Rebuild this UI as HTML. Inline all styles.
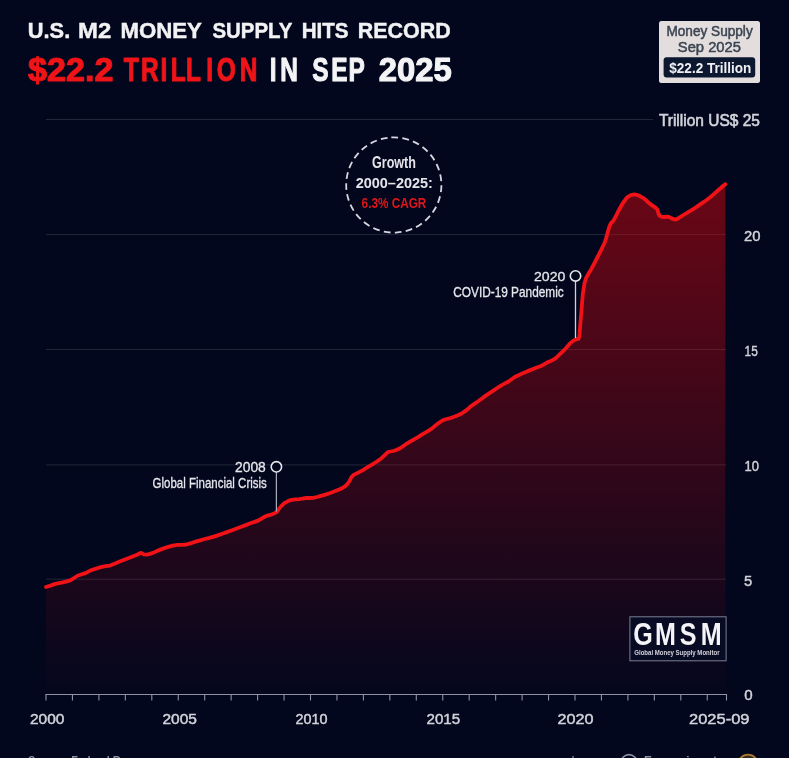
<!DOCTYPE html>
<html lang="en">
<head>
<meta charset="utf-8">
<title>U.S. M2 Money Supply Hits Record $22.2 Trillion in Sep 2025</title>
<style>
html,body{margin:0;padding:0;background:#03071d;}
body{width:789px;height:758px;overflow:hidden;position:relative;font-family:"Liberation Sans",sans-serif;}
svg{position:absolute;left:0;top:0;display:block;filter:blur(0.55px);}
text{font-family:"Liberation Sans",sans-serif;}
.t1{font-size:22.5px;font-weight:700;fill:#f2f2f4;stroke:#f2f2f4;stroke-width:0.45px;}
.t2{font-size:33.5px;font-weight:700;fill:#f4f4f6;stroke:#f4f4f6;stroke-width:1.1px;stroke-linejoin:round;}
.t2r{font-size:33.5px;font-weight:700;fill:#ee1418;stroke:#ee1418;stroke-width:1.1px;stroke-linejoin:round;}
.ax{font-size:14.5px;font-weight:400;fill:#d2d3da;stroke:#d2d3da;stroke-width:0.45px;}
.ann{font-size:13px;font-weight:400;fill:#e6e6ec;stroke:#e6e6ec;stroke-width:0.3px;}
.annb{font-size:12.5px;font-weight:700;fill:#e4e4ea;}
.grid line{stroke:#ffffff;stroke-opacity:0.125;stroke-width:1;}
.axis line{stroke:#8e92a4;stroke-width:1.1;}
</style>
</head>
<body>
<svg width="789" height="758" viewBox="0 0 789 758">
<defs>
<linearGradient id="fillg" gradientUnits="userSpaceOnUse" x1="0" y1="185" x2="0" y2="700">
<stop offset="0" stop-color="#cd060e" stop-opacity="0.51"/>
<stop offset="1" stop-color="#cd060e" stop-opacity="0"/>
</linearGradient>
</defs>
<rect x="0" y="0" width="789" height="758" fill="#03071d"/>

<!-- title -->
<g>
<text x="27.8" y="37.6" textLength="42.4" lengthAdjust="spacingAndGlyphs" class="t1" >U.S.</text>
<text x="78.0" y="37.6" textLength="33.2" lengthAdjust="spacingAndGlyphs" class="t1" >M2</text>
<text x="120.4" y="37.6" textLength="81.5" lengthAdjust="spacingAndGlyphs" class="t1" >MONEY</text>
<text x="212.4" y="37.6" textLength="80.0" lengthAdjust="spacingAndGlyphs" class="t1" >SUPPLY</text>
<text x="301.7" y="37.6" textLength="46.9" lengthAdjust="spacingAndGlyphs" class="t1" >HITS</text>
<text x="357.7" y="37.6" textLength="93.0" lengthAdjust="spacingAndGlyphs" class="t1" >RECORD</text>
<text x="28.0" y="81" textLength="85.4" lengthAdjust="spacingAndGlyphs" class="t2r" >$22.2</text>
<text transform="scale(0.73 1)" x="169.6 193.3 219.8 233.9 254.7 282.5 296.8 328.5" y="81" class="t2r" >TRILLION</text>
<text transform="scale(0.73 1)" x="369.4 383.9" y="81" class="t2" >IN</text>
<text transform="scale(0.73 1)" x="427.9 453.7 477.3" y="81" class="t2" >SEP</text>
<text x="378.7" y="81" textLength="73.0" lengthAdjust="spacingAndGlyphs" class="t2" >2025</text>
</g>

<!-- gridlines -->
<g class="grid"><line x1="46" y1="119.5" x2="653" y2="119.5"/><line x1="46" y1="234.6" x2="726" y2="234.6"/><line x1="46" y1="349.5" x2="726" y2="349.5"/><line x1="46" y1="464.9" x2="726" y2="464.9"/><line x1="46" y1="579.2" x2="726" y2="579.2"/></g>

<!-- area + line -->
<path d="M46.0,587.0 L50.5,585.6 L55.2,583.9 L62.8,582.4 L70.4,580.3 L74.0,578.0 L78.0,575.5 L82.0,574.2 L85.6,573.2 L90.2,570.6 L95.5,568.8 L100.8,567.1 L105.5,566.2 L110.0,565.6 L114.5,563.8 L119.1,561.8 L123.6,560.0 L128.2,558.3 L132.0,556.8 L135.8,555.3 L138.6,554.0 L141.1,552.8 L143.8,554.3 L146.5,554.7 L150.0,553.9 L154.5,552.2 L159.1,550.1 L163.7,548.4 L168.3,546.9 L172.8,545.6 L177.4,544.8 L182.0,544.8 L186.5,544.5 L191.0,543.2 L195.6,541.6 L200.2,540.3 L204.8,539.0 L209.3,537.9 L213.9,536.6 L218.4,535.1 L223.0,533.5 L227.5,531.9 L232.1,530.2 L236.7,528.5 L241.3,526.8 L245.8,525.1 L250.4,523.3 L254.6,521.9 L258.7,520.4 L261.5,518.6 L265.1,516.5 L268.0,515.4 L271.4,514.6 L274.0,513.6 L276.5,512.2 L278.4,509.8 L280.3,507.0 L282.8,504.6 L285.3,502.6 L288.5,500.9 L291.7,499.8 L295.5,499.4 L299.3,499.2 L303.0,498.5 L306.9,497.9 L310.0,498.0 L313.2,497.9 L317.0,497.0 L320.8,495.9 L324.6,494.8 L328.4,493.7 L332.2,492.3 L336.0,490.8 L339.2,489.5 L342.4,488.0 L345.0,486.3 L347.5,484.0 L349.5,481.0 L351.3,477.4 L353.0,475.4 L355.1,474.1 L359.1,472.2 L362.5,470.3 L366.0,468.2 L369.4,466.2 L372.8,464.2 L376.2,462.0 L379.7,459.6 L382.0,457.7 L384.2,455.6 L386.0,453.8 L387.8,452.2 L390.5,451.5 L393.3,451.0 L396.8,449.8 L400.2,448.2 L403.0,446.3 L405.9,444.2 L408.2,442.8 L410.5,441.4 L414.5,439.1 L418.4,436.8 L421.8,434.6 L425.3,432.6 L428.7,430.6 L432.1,428.4 L435.2,425.8 L439.0,422.8 L442.8,420.2 L446.6,419.0 L450.4,418.1 L454.2,416.8 L458.0,415.2 L461.0,413.8 L464.1,411.9 L467.2,409.6 L470.2,406.8 L474.0,404.1 L477.8,401.5 L481.6,398.7 L485.4,395.9 L489.2,393.4 L493.0,390.9 L496.8,388.3 L500.6,385.8 L504.4,383.7 L508.2,381.7 L512.0,379.0 L515.8,376.4 L519.6,374.7 L523.4,372.9 L527.0,371.4 L531.0,369.9 L535.5,368.1 L540.5,366.2 L544.0,364.4 L547.4,362.3 L550.8,360.9 L554.2,359.3 L557.0,357.0 L559.9,354.2 L562.8,351.4 L565.6,348.5 L568.0,345.8 L570.2,343.3 L572.5,341.4 L574.8,339.9 L576.6,339.2 L578.4,338.8 L579.3,337.0 L579.6,334.0 L580.4,322.8 L581.4,311.4 L582.3,300.0 L582.9,293.2 L584.6,282.6 L586.3,277.6 L588.9,273.0 L591.1,269.4 L594.0,264.0 L596.6,258.9 L599.2,253.8 L601.8,248.6 L604.3,243.5 L606.0,238.6 L607.4,233.4 L608.5,229.3 L609.7,225.6 L611.5,222.6 L613.7,220.2 L616.0,216.0 L618.0,211.7 L620.2,207.8 L622.3,204.0 L624.5,200.8 L626.6,198.0 L628.7,196.3 L630.9,195.1 L633.0,194.6 L635.2,194.5 L637.8,195.2 L640.3,196.3 L643.0,197.8 L645.5,199.7 L648.0,202.2 L650.3,204.0 L652.5,205.6 L654.6,207.1 L656.2,208.3 L657.5,209.8 L658.5,213.5 L659.7,215.8 L661.8,216.9 L664.5,217.0 L667.1,216.7 L669.5,217.2 L671.7,218.4 L673.8,219.2 L675.7,219.6 L677.7,218.7 L679.7,217.3 L682.0,215.9 L684.2,214.5 L687.0,212.8 L689.9,211.1 L692.8,209.4 L695.6,207.6 L698.4,205.6 L701.3,203.6 L704.2,201.7 L707.0,199.7 L709.8,197.5 L712.7,195.1 L715.5,192.6 L718.4,190.0 L720.8,188.0 L723.0,186.0 L725.3,184.3 L725.3,694.5 L46,694.5 Z" fill="url(#fillg)"/>

<path d="M46.0,587.0 L50.5,585.6 L55.2,583.9 L62.8,582.4 L70.4,580.3 L74.0,578.0 L78.0,575.5 L82.0,574.2 L85.6,573.2 L90.2,570.6 L95.5,568.8 L100.8,567.1 L105.5,566.2 L110.0,565.6 L114.5,563.8 L119.1,561.8 L123.6,560.0 L128.2,558.3 L132.0,556.8 L135.8,555.3 L138.6,554.0 L141.1,552.8 L143.8,554.3 L146.5,554.7 L150.0,553.9 L154.5,552.2 L159.1,550.1 L163.7,548.4 L168.3,546.9 L172.8,545.6 L177.4,544.8 L182.0,544.8 L186.5,544.5 L191.0,543.2 L195.6,541.6 L200.2,540.3 L204.8,539.0 L209.3,537.9 L213.9,536.6 L218.4,535.1 L223.0,533.5 L227.5,531.9 L232.1,530.2 L236.7,528.5 L241.3,526.8 L245.8,525.1 L250.4,523.3 L254.6,521.9 L258.7,520.4 L261.5,518.6 L265.1,516.5 L268.0,515.4 L271.4,514.6 L274.0,513.6 L276.5,512.2 L278.4,509.8 L280.3,507.0 L282.8,504.6 L285.3,502.6 L288.5,500.9 L291.7,499.8 L295.5,499.4 L299.3,499.2 L303.0,498.5 L306.9,497.9 L310.0,498.0 L313.2,497.9 L317.0,497.0 L320.8,495.9 L324.6,494.8 L328.4,493.7 L332.2,492.3 L336.0,490.8 L339.2,489.5 L342.4,488.0 L345.0,486.3 L347.5,484.0 L349.5,481.0 L351.3,477.4 L353.0,475.4 L355.1,474.1 L359.1,472.2 L362.5,470.3 L366.0,468.2 L369.4,466.2 L372.8,464.2 L376.2,462.0 L379.7,459.6 L382.0,457.7 L384.2,455.6 L386.0,453.8 L387.8,452.2 L390.5,451.5 L393.3,451.0 L396.8,449.8 L400.2,448.2 L403.0,446.3 L405.9,444.2 L408.2,442.8 L410.5,441.4 L414.5,439.1 L418.4,436.8 L421.8,434.6 L425.3,432.6 L428.7,430.6 L432.1,428.4 L435.2,425.8 L439.0,422.8 L442.8,420.2 L446.6,419.0 L450.4,418.1 L454.2,416.8 L458.0,415.2 L461.0,413.8 L464.1,411.9 L467.2,409.6 L470.2,406.8 L474.0,404.1 L477.8,401.5 L481.6,398.7 L485.4,395.9 L489.2,393.4 L493.0,390.9 L496.8,388.3 L500.6,385.8 L504.4,383.7 L508.2,381.7 L512.0,379.0 L515.8,376.4 L519.6,374.7 L523.4,372.9 L527.0,371.4 L531.0,369.9 L535.5,368.1 L540.5,366.2 L544.0,364.4 L547.4,362.3 L550.8,360.9 L554.2,359.3 L557.0,357.0 L559.9,354.2 L562.8,351.4 L565.6,348.5 L568.0,345.8 L570.2,343.3 L572.5,341.4 L574.8,339.9 L576.6,339.2 L578.4,338.8 L579.3,337.0 L579.6,334.0 L580.4,322.8 L581.4,311.4 L582.3,300.0 L582.9,293.2 L584.6,282.6 L586.3,277.6 L588.9,273.0 L591.1,269.4 L594.0,264.0 L596.6,258.9 L599.2,253.8 L601.8,248.6 L604.3,243.5 L606.0,238.6 L607.4,233.4 L608.5,229.3 L609.7,225.6 L611.5,222.6 L613.7,220.2 L616.0,216.0 L618.0,211.7 L620.2,207.8 L622.3,204.0 L624.5,200.8 L626.6,198.0 L628.7,196.3 L630.9,195.1 L633.0,194.6 L635.2,194.5 L637.8,195.2 L640.3,196.3 L643.0,197.8 L645.5,199.7 L648.0,202.2 L650.3,204.0 L652.5,205.6 L654.6,207.1 L656.2,208.3 L657.5,209.8 L658.5,213.5 L659.7,215.8 L661.8,216.9 L664.5,217.0 L667.1,216.7 L669.5,217.2 L671.7,218.4 L673.8,219.2 L675.7,219.6 L677.7,218.7 L679.7,217.3 L682.0,215.9 L684.2,214.5 L687.0,212.8 L689.9,211.1 L692.8,209.4 L695.6,207.6 L698.4,205.6 L701.3,203.6 L704.2,201.7 L707.0,199.7 L709.8,197.5 L712.7,195.1 L715.5,192.6 L718.4,190.0 L720.8,188.0 L723.0,186.0 L725.3,184.3" fill="none" stroke="#f01216" stroke-width="3.8" stroke-linejoin="round" stroke-linecap="round"/>

<!-- x axis -->
<g class="axis"><line x1="45.4" y1="694.5" x2="727.1" y2="694.5"/><line x1="46.00" y1="694.5" x2="46.00" y2="700.5"/><line x1="72.45" y1="694.5" x2="72.45" y2="700.5"/><line x1="98.90" y1="694.5" x2="98.90" y2="700.5"/><line x1="125.35" y1="694.5" x2="125.35" y2="700.5"/><line x1="151.80" y1="694.5" x2="151.80" y2="700.5"/><line x1="178.25" y1="694.5" x2="178.25" y2="700.5"/><line x1="204.70" y1="694.5" x2="204.70" y2="700.5"/><line x1="231.15" y1="694.5" x2="231.15" y2="700.5"/><line x1="257.60" y1="694.5" x2="257.60" y2="700.5"/><line x1="284.05" y1="694.5" x2="284.05" y2="700.5"/><line x1="310.50" y1="694.5" x2="310.50" y2="700.5"/><line x1="336.95" y1="694.5" x2="336.95" y2="700.5"/><line x1="363.40" y1="694.5" x2="363.40" y2="700.5"/><line x1="389.85" y1="694.5" x2="389.85" y2="700.5"/><line x1="416.30" y1="694.5" x2="416.30" y2="700.5"/><line x1="442.75" y1="694.5" x2="442.75" y2="700.5"/><line x1="469.20" y1="694.5" x2="469.20" y2="700.5"/><line x1="495.65" y1="694.5" x2="495.65" y2="700.5"/><line x1="522.10" y1="694.5" x2="522.10" y2="700.5"/><line x1="548.55" y1="694.5" x2="548.55" y2="700.5"/><line x1="575.00" y1="694.5" x2="575.00" y2="700.5"/><line x1="601.45" y1="694.5" x2="601.45" y2="700.5"/><line x1="627.90" y1="694.5" x2="627.90" y2="700.5"/><line x1="654.35" y1="694.5" x2="654.35" y2="700.5"/><line x1="680.80" y1="694.5" x2="680.80" y2="700.5"/><line x1="707.25" y1="694.5" x2="707.25" y2="700.5"/><line x1="726.50" y1="694.5" x2="726.50" y2="700.5"/></g>
<g>
<text x="30" y="724.3" textLength="34.5" lengthAdjust="spacingAndGlyphs" class="ax" >2000</text>
<text x="162.5" y="724.3" textLength="34.5" lengthAdjust="spacingAndGlyphs" class="ax" >2005</text>
<text x="295.4" y="724.3" textLength="32" lengthAdjust="spacingAndGlyphs" class="ax" >2010</text>
<text x="426.5" y="724.3" textLength="33.7" lengthAdjust="spacingAndGlyphs" class="ax" >2015</text>
<text x="557.5" y="724.3" textLength="36" lengthAdjust="spacingAndGlyphs" class="ax" >2020</text>
<text x="689" y="724.3" textLength="60.5" lengthAdjust="spacingAndGlyphs" class="ax" >2025-09</text>
</g>
<!-- y axis labels -->
<g>
<text x="658.9" y="125.5" textLength="101" lengthAdjust="spacingAndGlyphs" class="ax" style="font-size:16px;stroke-width:0.6px">Trillion US$ 25</text>
<text x="744" y="241" textLength="16.5" lengthAdjust="spacingAndGlyphs" class="ax" style="font-size:15.5px">20</text>
<text x="744.6" y="356" textLength="13.2" lengthAdjust="spacingAndGlyphs" class="ax" style="font-size:15.5px">15</text>
<text x="744.6" y="471" textLength="14.5" lengthAdjust="spacingAndGlyphs" class="ax" style="font-size:15.5px">10</text>
<text x="744" y="586" textLength="8.2" lengthAdjust="spacingAndGlyphs" class="ax" style="font-size:15.5px">5</text>
<text x="744.2" y="700" textLength="8.4" lengthAdjust="spacingAndGlyphs" class="ax" style="font-size:15.5px">0</text>
</g>

<!-- growth circle -->
<circle cx="393.8" cy="185" r="47.6" fill="none" stroke="#d6d7e0" stroke-width="1.8" stroke-dasharray="6.8 4.277" transform="rotate(-93 393.8 185)"/>
<text x="372" y="168" textLength="44" lengthAdjust="spacingAndGlyphs" class="annb" style="font-size:15.8px">Growth</text>
<text x="355.7" y="187.8" textLength="77.2" lengthAdjust="spacingAndGlyphs" class="annb" style="font-size:14.8px">2000–2025:</text>
<text x="361.6" y="208.2" textLength="64.7" lengthAdjust="spacingAndGlyphs" class="annb" style="font-size:14.8px;fill:#dc161a">6.3% CAGR</text>

<!-- 2008 annotation -->
<line x1="276.4" y1="472" x2="276.4" y2="511.5" stroke="#a9abb9" stroke-width="1.25"/>
<circle cx="276.4" cy="466.8" r="5.2" fill="#03071d" stroke="#e6e6ec" stroke-width="1.6"/>
<text x="235" y="471.7" textLength="30.8" lengthAdjust="spacingAndGlyphs" class="ann" style="font-size:14.3px">2008</text>
<text x="152.6" y="488.2" textLength="114.2" lengthAdjust="spacingAndGlyphs" class="ann" style="font-size:14.3px">Global Financial Crisis</text>

<!-- 2020 annotation -->
<line x1="575.5" y1="281" x2="575.5" y2="338" stroke="#d0d1da" stroke-width="1.3"/>
<circle cx="575.5" cy="275.9" r="5.2" fill="#03071d" stroke="#e6e6ec" stroke-width="1.6"/>
<text x="534" y="280.8" textLength="31.3" lengthAdjust="spacingAndGlyphs" class="ann" style="font-size:13.5px">2020</text>
<text x="453.3" y="297.4" textLength="110.4" lengthAdjust="spacingAndGlyphs" class="ann" style="font-size:14.3px">COVID-19 Pandemic</text>

<!-- top right box -->
<rect x="659" y="21" width="101" height="62" rx="2.5" fill="#e3dedd"/>
<text x="666.4" y="35.7" textLength="86.3" lengthAdjust="spacingAndGlyphs" class="" style="font-size:14.2px;fill:#3c4452;stroke:#3c4452;stroke-width:0.5px">Money Supply</text>
<text x="677.8" y="51.6" textLength="63.2" lengthAdjust="spacingAndGlyphs" class="" style="font-size:14.8px;fill:#3c4452;stroke:#3c4452;stroke-width:0.5px">Sep 2025</text>
<rect x="663.6" y="57.2" width="91.6" height="20.4" rx="3" fill="#0b1830"/>
<text x="669.3" y="73.3" textLength="82.1" lengthAdjust="spacingAndGlyphs" class="annb" style="font-size:15.5px;fill:#f0f0f4">$22.2 Trillion</text>

<!-- GMSM logo -->
<rect x="629.9" y="616.8" width="96.2" height="44" fill="#070b24" stroke="#7c8094" stroke-width="1"/>
<text transform="scale(0.81 1)" y="644.7" x="781.8 808.7 839.3 865.0" style="font-size:31px;font-weight:700;fill:#f4f4f6">GMSM</text>
<text x="634.3" y="655" textLength="85.2" lengthAdjust="spacingAndGlyphs" class="" style="font-size:7px;font-weight:700;fill:#d4d4dc">Global Money Supply Monitor</text>

<!-- footer (cropped at bottom) -->
<text x="28" y="764.6" textLength="127" lengthAdjust="spacingAndGlyphs" class="" style="font-size:13px;font-weight:700;fill:#8e90a0">Source: Federal Reserve</text>
<text x="571" y="764.8" textLength="19" lengthAdjust="spacingAndGlyphs" class="" style="font-size:13px;fill:#6e7082">by</text>
<circle cx="629" cy="762.6" r="8" fill="none" stroke="#8d90a0" stroke-width="1.6"/>
<text x="644" y="764.6" textLength="73" lengthAdjust="spacingAndGlyphs" class="" style="font-size:13px;font-weight:700;fill:#8d90a0">Econovis.net</text>
<circle cx="748" cy="764.6" r="10" fill="#3a2a1c" stroke="#a87c34" stroke-width="1.6"/>
</svg>
</body>
</html>
